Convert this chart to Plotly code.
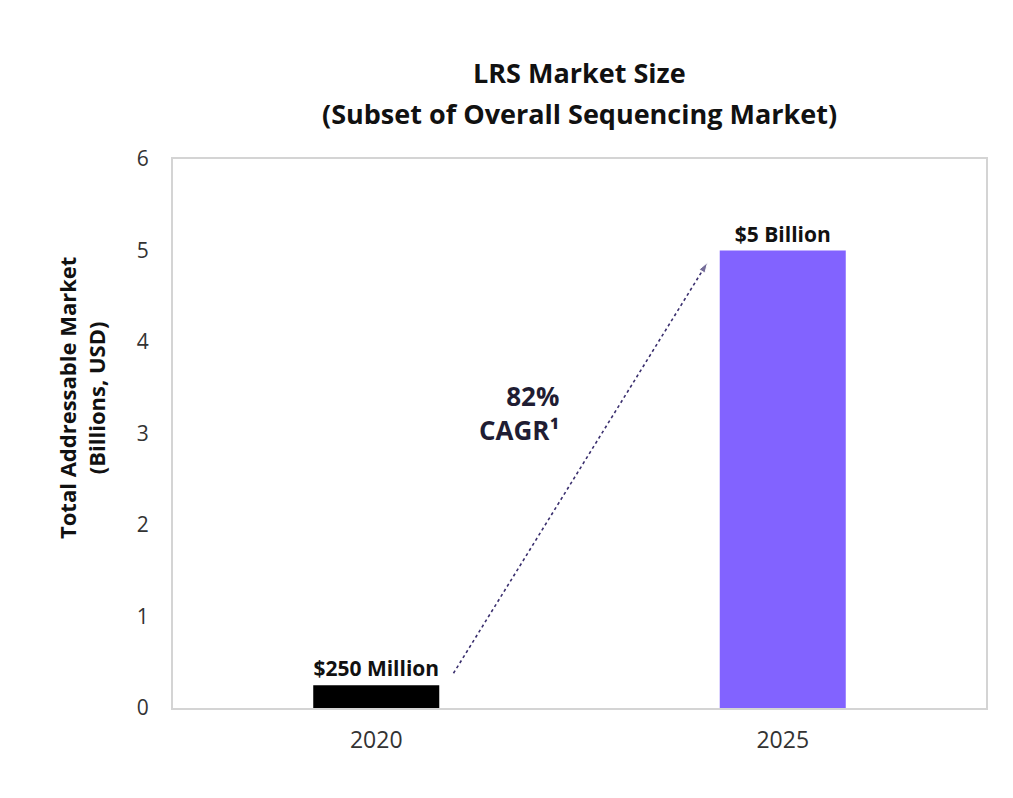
import plotly.graph_objects as go

years = ["2020", "2025"]
x_pos = [0, 1]
values = [0.25, 5.0]
value_labels = ["$250 Million", "$5 Billion"]
bar_colors = ["#000000", "#8263FF"]
y_ticks = [0, 1, 2, 3, 4, 5, 6]
title_lines = ["LRS Market Size", "(Subset of Overall Sequencing Market)"]

# CAGR arrow endpoints (data coords)
arrow_x = [0.19, 0.815]
arrow_y = [0.38, 4.87]

FONT = "'Open Sans', sans-serif"
DARK = "#1f1d33"

fig = go.Figure()
fig.add_trace(go.Bar(
    x=x_pos, y=values, width=0.31,
    marker=dict(color=bar_colors, line=dict(width=0)),
    text=value_labels, textposition="outside",
    textfont=dict(family=FONT, size=21, color="#111111", weight="bold"),
    cliponaxis=False, hoverinfo="skip",
))
fig.add_trace(go.Scatter(
    x=arrow_x, y=arrow_y, mode="lines+markers",
    line=dict(color="#3a2f6e", width=1.6, dash="dot"),
    marker=dict(symbol="arrow", size=[0, 11], angleref="previous", color="#3a2f6e"),
    hoverinfo="skip",
))

fig.update_layout(
    width=1013, height=798,
    margin=dict(l=173, r=27, t=159, b=90),
    paper_bgcolor="white", plot_bgcolor="white",
    showlegend=False,
    font=dict(family=FONT, color="#333333"),
    xaxis=dict(
        range=[-0.5, 1.5], tickvals=x_pos, ticktext=years,
        showgrid=False, zeroline=False,
        showline=True, linecolor="#d4d4d4", linewidth=2, mirror=True,
        ticks="", tickfont=dict(family=FONT, size=23, color="#333333"),
        ticklabelstandoff=10,
    ),
    yaxis=dict(
        range=[0, 6], tickvals=y_ticks,
        showgrid=False, zeroline=False,
        showline=True, linecolor="#d4d4d4", linewidth=2, mirror=True,
        ticks="", tickfont=dict(family=FONT, size=21, color="#333333"),
        ticklabelstandoff=18,
    ),
    bargap=0.69,
)

for line, py in zip(title_lines, [72, 114]):
    fig.add_annotation(
        xref="paper", yref="paper", x=0.5, y=(708 - py) / 549,
        text=f"<b>{line}</b>", showarrow=False, xanchor="center", yanchor="middle",
        font=dict(family=FONT, size=27, color="#111111"),
    )

fig.add_annotation(
    xref="paper", yref="paper", x=(81 - 173) / 813, y=(708 - 398) / 549,
    text="<b>Total Addressable Market</b><br><b>(Billions, USD)</b>",
    textangle=-90, showarrow=False, xanchor="center", yanchor="middle",
    font=dict(family=FONT, size=22, color="#111111"),
)
fig.add_annotation(
    x=0.455, y=3.22, xref="x", yref="y",
    text="<b>82%</b><br><b>CAGR¹</b>", showarrow=False, align="right",
    xanchor="right", yanchor="middle",
    font=dict(family=FONT, size=26, color=DARK),
)

fig.write_html("out.html")
